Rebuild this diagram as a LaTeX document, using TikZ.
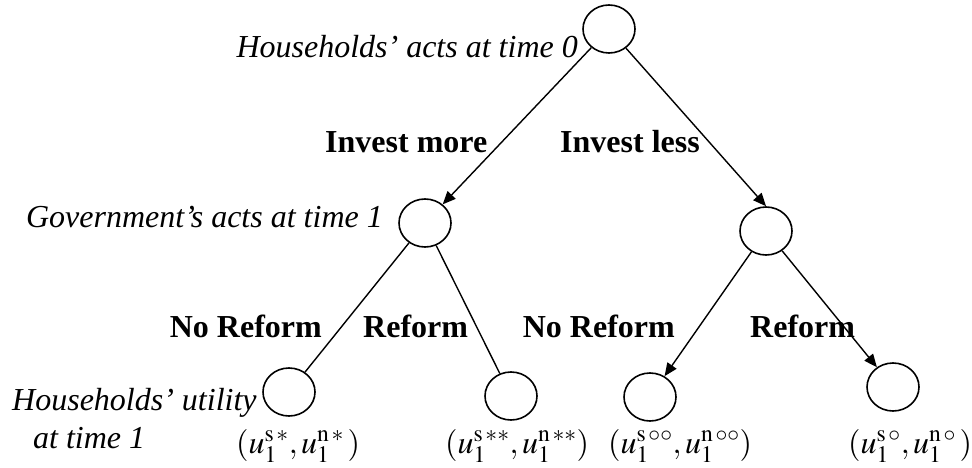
\documentclass[tikz,border=0pt]{standalone}
\usepackage{mathptmx}
\usepackage{fontspec}
\setmainfont{Liberation Serif}
\usetikzlibrary{arrows.meta, shapes.geometric}
\newcommand{\actnode}[3]{%
  \node[ellipse, draw, line width=1.6pt, minimum width=52pt,
        minimum height=48pt, inner sep=0pt] (#1) at (#2,#3) {};}

\begin{document}
\begin{tikzpicture}[x=1pt, y=-1pt, font=\fontsize{32}{38}\selectfont,
    move/.style={line width=1.4pt},
    movearrow/.style={move, -{Triangle[length=13pt, width=11pt]}},
    stage/.style={font=\fontsize{32}{38}\selectfont\itshape, inner sep=0pt},
    choice/.style={font=\fontsize{32}{38}\selectfont\bfseries, inner sep=0pt},
    payoff/.style={inner sep=0pt}]
  \useasboundingbox (0,0) rectangle (972,468);
  % decision nodes
  \actnode{h0}{609}{29}
  \actnode{g1}{425}{223}
  \actnode{g2}{766}{231}
  \actnode{u1}{289}{392}
  \actnode{u2}{511}{396}
  \actnode{u3}{650}{397}
  \actnode{u4}{893}{387}
  % stage labels
  \node[stage, anchor=base east] (t0) at (578,58) {Households’ acts at time 0};
  \node[stage, anchor=base east] (t1) at (383,227) {Government’s acts at time 1};
  \node[stage, anchor=base west] (t2) at (12,410) {Households’ utility};
  \node[stage, anchor=base west] (t3) at (33,448) {at time 1};
  % moves
  \draw[movearrow] (h0) -- (g1);
  \draw[movearrow] (h0) -- (g2.north);
  \draw[move] (g1) -- (u1);
  \draw[move] (g1) -- (u2);
  \draw[movearrow] (g2) -- (u3);
  \draw[movearrow] (g2) -- (u4);
  \node[choice, anchor=base west] (c1) at (325,153) {Invest more};
  \node[choice, anchor=base west] (c2) at (560,153) {Invest less};
  \node[choice, anchor=base east] (c3) at (322,337) {No Reform};
  \node[choice, anchor=base west] (c4) at (363,337) {Reform};
  \node[choice, anchor=base east] (c5) at (675,337) {No Reform};
  \node[choice, anchor=base west] (c6) at (750,337) {Reform};
  % payoffs
  \node[payoff, anchor=base west] (p1) at (236,453)
    {$(u_1^{\mathrm{s}\,*},u_1^{\mathrm{n}\,*}\,)$};
  \node[payoff, anchor=base west] (p2) at (445,453)
    {$(u_1^{\mathrm{s}\,**},u_1^{\mathrm{n}\,**})$};
  \node[payoff, anchor=base west] (p3) at (608,453)
    {$(u_1^{\mathrm{s}\,\circ\circ},u_1^{\mathrm{n}\,\circ\circ})$};
  \node[payoff, anchor=base west] (p4) at (848,453)
    {$(u_1^{\mathrm{s}\,\circ},u_1^{\mathrm{n}\,\circ}\,)$};
\end{tikzpicture}
\end{document}
